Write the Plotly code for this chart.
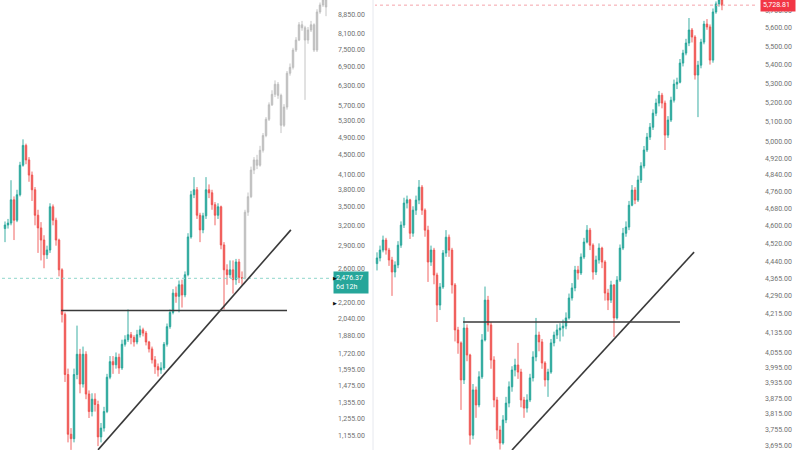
import math
import plotly.graph_objects as go

# ---------------- data ----------------
LEFT_OPEN_FIRST = 3150
LEFT_CLOSE = [3205, 3235, 3620, 3280, 3710, 4280, 4710, 4390, 4080, 3800,
              3360, 3160, 2980, 2775, 2840, 3500, 3280, 2980, 2580, 2080,
              1555, 1165, 1140, 1555, 1715, 1485, 1715, 1415, 1300, 1380,
              1345, 1150, 1200, 1300, 1535, 1655, 1630, 1690, 1605, 1800,
              1840, 1885, 1860, 1820, 1885, 1930, 1900, 1820, 1760, 1670,
              1615, 1590, 1605, 1800, 1960, 2100, 2305, 2270, 2400, 2285,
              2520, 3025, 3710, 3800, 3360, 3130, 3350, 3800, 3745, 3535,
              3360, 3500, 2910, 2580, 2520, 2580, 2460, 2680, 2485, 2476.37]
LEFT_HIGH = [3260, 3300, 3980, 3680, 3800, 4350, 4850, 4750, 4450, 4150,
             3850, 3450, 3250, 3050, 2900, 3560, 3540, 3320, 3000, 2600,
             2100, 1600, 1200, 1600, 1970, 1760, 1780, 1740, 1440, 1420,
             1420, 1370, 1230, 1330, 1560, 1700, 1700, 1730, 1720, 1840,
             1880, 2130, 1910, 1880, 1930, 1970, 1950, 1920, 1830, 1780,
             1700, 1640, 1650, 1820, 1990, 2130, 2350, 2380, 2450, 2460,
             2560, 3080, 3780, 4040, 3850, 3400, 3400, 4040, 3900, 3800,
             3580, 3560, 3520, 2950, 2650, 2700, 2700, 2720, 2720, 2560]
LEFT_LOW = [2950, 3150, 3200, 2980, 3250, 3680, 4250, 4300, 3950, 3600,
            3200, 2800, 2700, 2600, 2720, 2800, 3200, 2900, 2500, 2000,
            1500, 1120, 1080, 1120, 1520, 1420, 1460, 1380, 1260, 1270,
            1300, 1100, 1120, 1180, 1290, 1520, 1560, 1600, 1560, 1590,
            1780, 1820, 1800, 1780, 1800, 1860, 1870, 1790, 1730, 1640,
            1560, 1540, 1560, 1590, 1780, 1940, 2080, 2200, 2100, 2150,
            2260, 2500, 3000, 3650, 3300, 2950, 3080, 3300, 3650, 3450,
            3200, 3300, 2850, 2130, 2400, 2480, 2300, 2400, 2420, 2400]

GHOST_CLOSE = [3410, 3675, 4180, 4390, 4280, 4600, 4940, 5345, 5730, 6030,
               6330, 6000, 5190, 5670, 6680, 6870, 7470, 7840, 8440, 8320,
               7840, 8230, 8440, 7470, 8980, 9290, 9520, 9200]
GHOST_HIGH = [3450, 3750, 4250, 4450, 4500, 4700, 5000, 5400, 5800, 6150,
              6450, 6400, 6050, 5750, 6750, 7000, 7550, 7950, 8550, 8600,
              8400, 8350, 8600, 8500, 9100, 9400, 9700, 9600]
GHOST_LOW = [2460, 3350, 3650, 4100, 4200, 4250, 4550, 4900, 5300, 5700,
             5950, 5900, 5000, 5150, 5600, 6600, 6800, 7400, 7800, 8200,
             5870, 7700, 8150, 7400, 7400, 8900, 9200, 8800]

RIGHT_OPEN_FIRST = 4430
RIGHT_CLOSE = [4455, 4490, 4535, 4490, 4446, 4393, 4424, 4512, 4603, 4705,
               4720, 4566, 4672, 4719, 4780, 4672, 4580, 4437, 4490, 4380,
               4251, 4328, 4477, 4548, 4490, 4337, 4147, 4094, 3946, 4155,
               4045, 3735, 3907, 3849, 3958, 4106, 4272, 4168, 4025, 3868,
               3754, 3706, 3792, 3856, 3919, 3985, 4005, 3977, 3868, 3837,
               3868, 3954, 4037, 4126, 4098, 4013, 3946, 3977, 4094, 4126,
               4147, 4155, 4163, 4197, 4281, 4324, 4402, 4389, 4459, 4526,
               4580, 4512, 4393, 4446, 4499, 4437, 4302, 4272, 4337, 4197,
               4358, 4499, 4566, 4594, 4695, 4766, 4719, 4814, 4882, 4960,
               5024, 5074, 5145, 5197, 5238, 5197, 5034, 5110, 5212, 5296,
               5306, 5408, 5462, 5517, 5589, 5550, 5344, 5397, 5522, 5622,
               5606, 5424, 5690, 5736, 5758, 5728.81]
RIGHT_HIGH = [4480, 4510, 4555, 4545, 4500, 4460, 4440, 4530, 4620, 4730,
              4740, 4725, 4690, 4740, 4814, 4790, 4680, 4600, 4510, 4500,
              4390, 4345, 4490, 4580, 4560, 4500, 4345, 4160, 4100, 4200,
              4170, 4050, 3930, 3920, 3980, 4130, 4330, 4290, 4180, 4040,
              3880, 3770, 3810, 3880, 3940, 4000, 4030, 4094, 3990, 3880,
              3890, 3970, 4060, 4197, 4140, 4110, 4020, 3990, 4110, 4140,
              4170, 4175, 4190, 4220, 4300, 4345, 4420, 4420, 4475, 4545,
              4603, 4590, 4520, 4465, 4520, 4505, 4445, 4320, 4355, 4340,
              4375, 4515, 4590, 4620, 4715, 4790, 4780, 4835, 4900, 4980,
              5045, 5095, 5165, 5220, 5260, 5250, 5210, 5130, 5230, 5320,
              5330, 5430, 5480, 5540, 5656, 5600, 5560, 5420, 5540, 5640,
              5650, 5620, 5710, 5750, 5780, 5765]
RIGHT_LOW = [4400, 4440, 4480, 4470, 4420, 4290, 4370, 4410, 4500, 4590,
             4680, 4540, 4550, 4650, 4700, 4650, 4550, 4350, 4420, 4340,
             4180, 4230, 4320, 4460, 4460, 4300, 4100, 4050, 3830, 3930,
             4020, 3700, 3720, 3800, 3840, 3950, 4100, 4140, 3990, 3840,
             3720, 3682, 3700, 3780, 3840, 3900, 3960, 3950, 3840, 3800,
             3820, 3860, 3940, 4020, 4060, 3990, 3920, 3880, 3970, 4080,
             4110, 4100, 4120, 4150, 4190, 4270, 4310, 4360, 4380, 4450,
             4520, 4490, 4360, 4380, 4430, 4410, 4270, 4230, 4260, 4118,
             4190, 4350, 4490, 4550, 4580, 4690, 4700, 4710, 4800, 4870,
             4950, 5010, 5060, 5130, 5180, 5170, 4960, 5020, 5100, 5200,
             5270, 5300, 5390, 5450, 5500, 5520, 5320, 5125, 5380, 5510,
             5590, 5400, 5410, 5680, 5720, 5700]

LEFT_TICKS = [8850, 8100, 7500, 6900, 6300, 5700, 5300, 4900, 4500, 4100,
              3800, 3500, 3200, 2900, 2600, 2200, 2040, 1880, 1720, 1595,
              1475, 1355, 1255, 1155, 1075]
RIGHT_TICKS = [5700, 5600, 5500, 5400, 5300, 5200, 5100, 5000, 4920, 4840,
               4760, 4680, 4600, 4520, 4440, 4365, 4290, 4215, 4135, 4055,
               3995, 3935, 3875, 3815, 3755, 3695]

LEFT_LAST_TEXT = "6d 12h"
LEFT_LEVEL = 2120
LEFT_LEVEL_SPAN = [18.7, 94]
LEFT_TREND_X = [31, 95.3]
LEFT_TREND_Y = [1080, 3130]
RIGHT_LEVEL = 4180
RIGHT_LEVEL_SPAN = [28.7, 101]
RIGHT_TREND_X = [45, 105.7]
RIGHT_TREND_Y = [3680, 4481]

# ---------------- styling ----------------
UP = "#26a69a"
DOWN = "#ef5350"
GHOST = "#bdbdbd"
TICK_FONT = dict(family="Roboto", size=7, color="#707070")

left_x = list(range(len(LEFT_CLOSE)))
left_open = [LEFT_OPEN_FIRST] + LEFT_CLOSE[:-1]
ghost_x = list(range(len(LEFT_CLOSE), len(LEFT_CLOSE) + len(GHOST_CLOSE)))
ghost_open = [LEFT_CLOSE[-1]] + GHOST_CLOSE[:-1]
right_x = list(range(len(RIGHT_CLOSE)))
right_open = [RIGHT_OPEN_FIRST] + RIGHT_CLOSE[:-1]

fig = go.Figure()

def candles(x, o, h, l, c, up, down, xa, ya):
    return go.Candlestick(
        x=x, open=o, high=h, low=l, close=c, xaxis=xa, yaxis=ya,
        increasing=dict(line=dict(color=up, width=0.9), fillcolor=up),
        decreasing=dict(line=dict(color=down, width=0.9), fillcolor=down),
        whiskerwidth=0, showlegend=False, hoverinfo="skip")

fig.add_trace(candles(left_x, left_open, LEFT_HIGH, LEFT_LOW, LEFT_CLOSE, UP, DOWN, "x", "y"))
fig.add_trace(candles(ghost_x, ghost_open, GHOST_HIGH, GHOST_LOW, GHOST_CLOSE, GHOST, GHOST, "x", "y"))
fig.add_trace(candles(right_x, right_open, RIGHT_HIGH, RIGHT_LOW, RIGHT_CLOSE, UP, DOWN, "x2", "y2"))

# current price dotted lines
left_n = len(LEFT_CLOSE) + len(GHOST_CLOSE)
fig.add_trace(go.Scatter(x=[-3, left_n + 3], y=[LEFT_CLOSE[-1]] * 2, mode="lines",
                         line=dict(color="#8fd6cb", width=1, dash="dot"),
                         xaxis="x", yaxis="y", showlegend=False, hoverinfo="skip"))
fig.add_trace(go.Scatter(x=[-3, len(RIGHT_CLOSE) + 15], y=[RIGHT_CLOSE[-1]] * 2, mode="lines",
                         line=dict(color="#f5a3aa", width=1, dash="dot"),
                         xaxis="x2", yaxis="y2", showlegend=False, hoverinfo="skip"))

# drawn lines
LINE = dict(color="#3a3a3a", width=1.6)
fig.add_trace(go.Scatter(x=LEFT_LEVEL_SPAN, y=[LEFT_LEVEL] * 2, mode="lines", line=LINE,
                         xaxis="x", yaxis="y", showlegend=False, hoverinfo="skip"))
fig.add_trace(go.Scatter(x=LEFT_TREND_X, y=LEFT_TREND_Y, mode="lines", line=LINE,
                         xaxis="x", yaxis="y", showlegend=False, hoverinfo="skip"))
fig.add_trace(go.Scatter(x=RIGHT_LEVEL_SPAN, y=[RIGHT_LEVEL] * 2, mode="lines", line=LINE,
                         xaxis="x2", yaxis="y2", showlegend=False, hoverinfo="skip"))
fig.add_trace(go.Scatter(x=RIGHT_TREND_X, y=RIGHT_TREND_Y, mode="lines", line=LINE,
                         xaxis="x2", yaxis="y2", showlegend=False, hoverinfo="skip"))

fmt = lambda v: f"{v:,.2f}"

yax = dict(type="log", side="right", showgrid=False, zeroline=False, showline=False,
           ticks="", tickfont=TICK_FONT, ticklabelstandoff=7, ticklabeloverflow="allow",
           fixedrange=True)
xax = dict(visible=False, rangeslider=dict(visible=False), fixedrange=True)

fig.update_layout(
    width=800, height=450,
    margin=dict(l=0, r=0, t=0, b=0),
    paper_bgcolor="white", plot_bgcolor="white",
    xaxis=dict(xax, domain=[0, 330 / 800], range=[-1.67, 108.33], anchor="y"),
    yaxis=dict(yax, anchor="x", range=[3.03317, 3.97845],
               tickvals=LEFT_TICKS, ticktext=[fmt(v) for v in LEFT_TICKS]),
    xaxis2=dict(xax, domain=[375 / 800, 757 / 800], range=[-0.67, 126.67], anchor="y2"),
    yaxis2=dict(yax, anchor="x2", range=[3.56588, 3.76029],
                tickvals=RIGHT_TICKS, ticktext=[fmt(v) for v in RIGHT_TICKS]),
)

# separator between panels
fig.add_shape(type="line", xref="paper", yref="paper", x0=373 / 800, x1=373 / 800, y0=0, y1=1,
              line=dict(color="#e6e8ee", width=1))

# price labels
fig.add_annotation(xref="paper", yref="y", x=333 / 800, y=math.log10(LEFT_CLOSE[-1]),
                   xanchor="left", yanchor="top", yshift=7, align="left",
                   text=f"{fmt(LEFT_CLOSE[-1])}<br>{LEFT_LAST_TEXT}", showarrow=False,
                   bgcolor=UP, font=dict(family="Roboto", size=7, color="white"),
                   borderpad=2, width=30)
fig.add_annotation(xref="paper", yref="y2", x=760 / 800, y=math.log10(RIGHT_CLOSE[-1]),
                   xanchor="left", yanchor="middle", align="left",
                   text=fmt(RIGHT_CLOSE[-1]), showarrow=False,
                   bgcolor="#f23645", font=dict(family="Roboto", size=7, color="white"),
                   borderpad=2, width=30)
for yv in [LEFT_CLOSE[-1], 2200]:
    fig.add_annotation(xref="paper", yref="y", x=331 / 800, y=math.log10(yv),
                       xanchor="left", yanchor="middle", text="\u25b6", showarrow=False,
                       font=dict(size=5, color="#111"))

fig.write_html("out.html", config={"displayModeBar": False},
               post_script="document.body.style.margin='0';"
                           "document.body.style.overflow='hidden';"
                           "document.documentElement.style.overflow='hidden';"
                           "window.scrollTo(0,0);")
